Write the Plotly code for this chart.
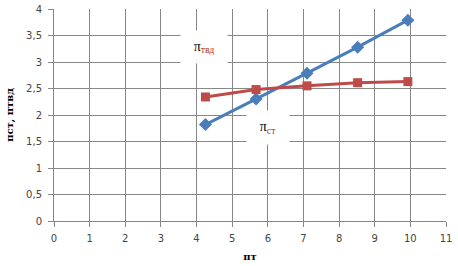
import plotly.graph_objects as go

x_vals = [4.25, 5.67, 7.1, 8.52, 9.93]
pi_tvd = [1.82, 2.30, 2.79, 3.28, 3.79]
pi_st = [2.34, 2.48, 2.55, 2.61, 2.63]

fig = go.Figure()
fig.add_trace(go.Scatter(x=x_vals, y=pi_tvd, mode="lines+markers",
                         line=dict(color="#4A7EBB", width=3),
                         marker=dict(symbol="diamond", size=10, color="#4A7EBB")))
fig.add_trace(go.Scatter(x=x_vals, y=pi_st, mode="lines+markers",
                         line=dict(color="#BE4B48", width=3),
                         marker=dict(symbol="square", size=9, color="#BE4B48")))

grid = "#878787"
fig.update_layout(
    width=458, height=266,
    margin=dict(l=54, r=12, t=9, b=45),
    paper_bgcolor="white", plot_bgcolor="white",
    showlegend=False,
    separators=", ",
    font=dict(family="DejaVu Sans", size=10, color="#454545"),
    xaxis=dict(range=[0, 11], dtick=1, tick0=0, showgrid=True, gridcolor=grid, gridwidth=1,
               showline=True, linecolor=grid, ticks="outside", ticklen=5, tickcolor=grid,
               ticklabelstandoff=3, automargin=False,
               zeroline=False, fixedrange=True,
               title=dict(text="<b>πт</b>", font=dict(family="DejaVu Serif", size=10, color="#000"), standoff=9)),
    yaxis=dict(range=[0, 4], dtick=0.5, tick0=0, showgrid=True, gridcolor=grid, gridwidth=1,
               showline=True, linecolor=grid, ticks="outside", ticklen=5, tickcolor=grid,
               ticklabelstandoff=4, automargin=False,
               zeroline=False, fixedrange=True,
               title=dict(text="<b>πст, πтвд</b>", font=dict(family="DejaVu Serif", size=10, color="#000"), standoff=10)),
)

fig.add_annotation(x=4.2, y=3.28, xref="x", yref="y", showarrow=False,
                   text="π<sub><span style='color:#B03A1E'>твд</span></sub>",
                   font=dict(family="Liberation Serif", size=14, color="#000"),
                   bgcolor="white", width=44, height=30)
fig.add_annotation(x=6.0, y=1.77, xref="x", yref="y", showarrow=False,
                   text="π<sub><span style='color:#B03A1E'>ст</span></sub>",
                   font=dict(family="Liberation Serif", size=14, color="#000"),
                   bgcolor="white", width=40, height=31)

fig.write_html("out.html")
